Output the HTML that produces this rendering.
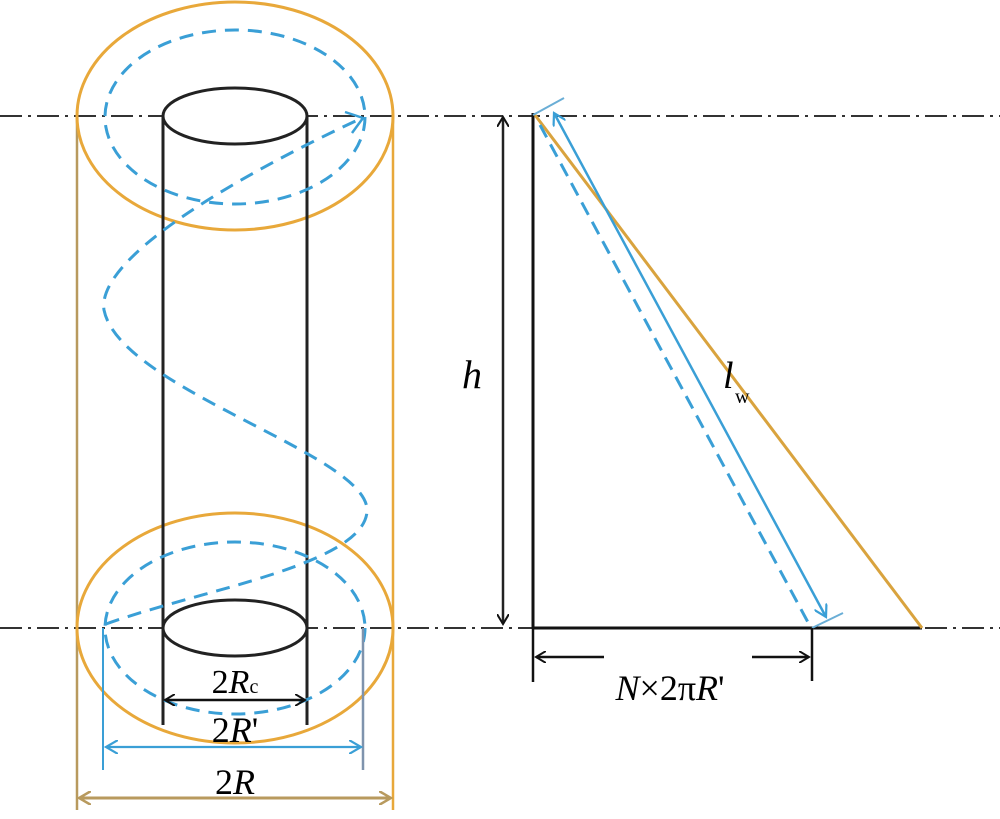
<!DOCTYPE html>
<html><head><meta charset="utf-8"><style>html,body{margin:0;padding:0;background:#fff}svg{display:block}</style></head>
<body>
<svg width="1000" height="819" viewBox="0 0 1000 819" xmlns="http://www.w3.org/2000/svg" font-family="Liberation Serif, serif">
<defs>
<marker id="ab" markerWidth="12" markerHeight="12" refX="10" refY="6" orient="auto-start-reverse" markerUnits="userSpaceOnUse"><path d="M0,0 L10,6 L0,12" fill="none" stroke="#111" stroke-width="2"/></marker>
<marker id="ablue" markerWidth="14" markerHeight="14" refX="12" refY="7" orient="auto-start-reverse" markerUnits="userSpaceOnUse"><path d="M0,0 L12,7 L0,14" fill="none" stroke="#3a9fd6" stroke-width="2.2"/></marker>
<marker id="atan" markerWidth="14" markerHeight="14" refX="12" refY="7" orient="auto-start-reverse" markerUnits="userSpaceOnUse"><path d="M0,0 L12,7 L0,14" fill="none" stroke="#b89a5e" stroke-width="2.5"/></marker>
</defs>
<line x1="0" y1="116" x2="1000" y2="116" stroke="#333" stroke-width="2" stroke-dasharray="22,6,3,6"/>
<line x1="0" y1="628" x2="1000" y2="628" stroke="#333" stroke-width="2" stroke-dasharray="22,6,3,6"/>
<line x1="77" y1="116" x2="77" y2="810" stroke="#b89a5e" stroke-width="2.5"/>
<line x1="393" y1="116" x2="393" y2="810" stroke="#e8a83a" stroke-width="2.5"/>
<ellipse cx="235" cy="116" rx="158" ry="114" fill="none" stroke="#e8a83a" stroke-width="3"/>
<ellipse cx="235" cy="628" rx="158" ry="115" fill="none" stroke="#e8a83a" stroke-width="3"/>
<line x1="163" y1="116" x2="163" y2="725" stroke="#222" stroke-width="3"/>
<line x1="307" y1="116" x2="307" y2="725" stroke="#222" stroke-width="3"/>
<ellipse cx="235" cy="116" rx="72" ry="28" fill="#fff" stroke="#222" stroke-width="3"/>
<ellipse cx="235" cy="628" rx="72" ry="28" fill="#fff" stroke="#222" stroke-width="3"/>
<ellipse cx="235" cy="117" rx="130" ry="87" fill="none" stroke="#3a9fd6" stroke-width="3" stroke-dasharray="14,9"/>
<ellipse cx="235" cy="628" rx="130" ry="86" fill="none" stroke="#3a9fd6" stroke-width="3" stroke-dasharray="14,9"/>
<path d="M106,624 C200,590 362,565 367,512 C372,455 120,390 104,310 C96,255 250,170 362,118" fill="none" stroke="#3a9fd6" stroke-width="3" stroke-dasharray="14,9"/>
<path d="M345,112 L363,118 L352,133" fill="none" stroke="#3a9fd6" stroke-width="2.5"/>
<line x1="103" y1="628" x2="103" y2="770" stroke="#3a9fd6" stroke-width="2"/>
<line x1="363" y1="628" x2="363" y2="770" stroke="#7f93ad" stroke-width="2.5"/>
<line x1="165" y1="700" x2="305" y2="700" stroke="#111" stroke-width="2.5" marker-start="url(#ab)" marker-end="url(#ab)"/>
<text x="235" y="693" font-size="34" text-anchor="middle">2<tspan font-style="italic">R</tspan><tspan font-size="20">c</tspan></text>
<line x1="106" y1="747" x2="361" y2="747" stroke="#3a9fd6" stroke-width="2.2" marker-start="url(#ablue)" marker-end="url(#ablue)"/>
<text x="235" y="742" font-size="36" text-anchor="middle">2<tspan font-style="italic">R</tspan>'</text>
<line x1="79" y1="798" x2="391" y2="798" stroke="#b89a5e" stroke-width="3" marker-start="url(#atan)" marker-end="url(#atan)"/>
<text x="235" y="794" font-size="36" text-anchor="middle">2<tspan font-style="italic">R</tspan></text>
<line x1="503" y1="117" x2="503" y2="624" stroke="#222" stroke-width="2.5" marker-start="url(#ab)" marker-end="url(#ab)"/>
<text x="472" y="388" font-size="40" font-style="italic" text-anchor="middle">h</text>
<line x1="533" y1="113" x2="533" y2="629" stroke="#111" stroke-width="3"/>
<line x1="533" y1="628" x2="922" y2="628" stroke="#111" stroke-width="3"/>
<line x1="535" y1="115" x2="922" y2="628" stroke="#d9a33e" stroke-width="3"/>
<line x1="540" y1="125" x2="810" y2="626" stroke="#3a9fd6" stroke-width="3" stroke-dasharray="14,8"/>
<line x1="554" y1="113" x2="826" y2="617" stroke="#3a9fd6" stroke-width="2.5" marker-start="url(#ablue)" marker-end="url(#ablue)"/>
<line x1="533" y1="115" x2="564" y2="98" stroke="#6aaed6" stroke-width="2"/>
<line x1="812" y1="628" x2="843" y2="613" stroke="#6aaed6" stroke-width="2"/>
<text x="723" y="388" font-size="38" font-style="italic">l</text>
<text x="735" y="403" font-size="20">w</text>
<line x1="533" y1="628" x2="533" y2="682" stroke="#111" stroke-width="2.5"/>
<line x1="812" y1="628" x2="812" y2="681" stroke="#111" stroke-width="2.5"/>
<line x1="604" y1="657" x2="536" y2="657" stroke="#111" stroke-width="2.5" marker-end="url(#ab)"/>
<line x1="752" y1="657" x2="809" y2="657" stroke="#111" stroke-width="2.5" marker-end="url(#ab)"/>
<text x="670" y="700" font-size="36" text-anchor="middle"><tspan font-style="italic">N</tspan>×2π<tspan font-style="italic">R</tspan>'</text>
</svg>
</body></html>
